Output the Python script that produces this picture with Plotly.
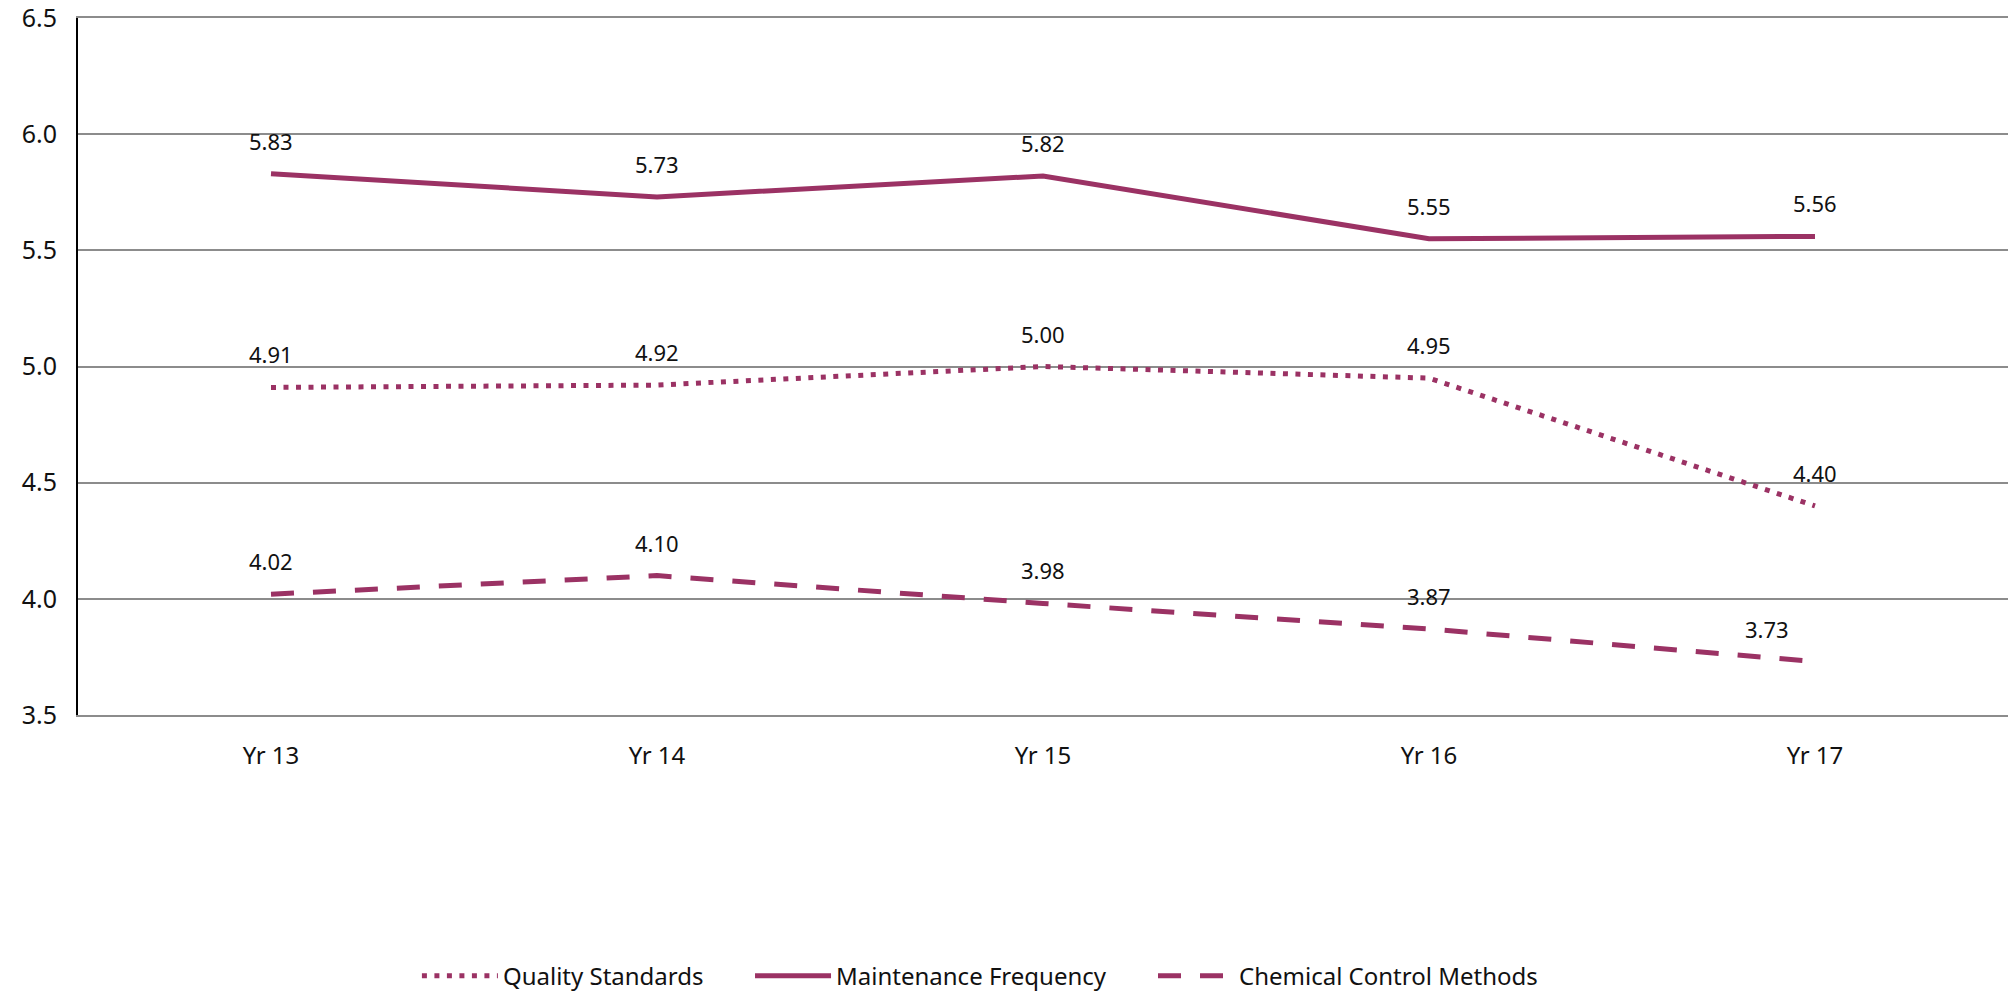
import plotly.graph_objects as go

years = ["Yr 13", "Yr 14", "Yr 15", "Yr 16", "Yr 17"]
quality = [4.91, 4.92, 5.00, 4.95, 4.40]
maintenance = [5.83, 5.73, 5.82, 5.55, 5.56]
chemical = [4.02, 4.10, 3.98, 3.87, 3.73]

color = "#9B3264"
font_family = "Noto Sans, Open Sans, sans-serif"

series = [
    ("Quality Standards", quality, "5px,7.5px", "legend", 0.1756),
    ("Maintenance Frequency", maintenance, "solid", "legend2", 0.3482),
    ("Chemical Control Methods", chemical, "23px,19px", "legend3", 0.557),
]

fig = go.Figure()
for name, vals, dash, leg, lx in series:
    fig.add_trace(go.Scatter(
        x=years, y=vals, name=name, mode="lines",
        line=dict(color=color, width=5, dash=dash),
        hoverinfo="skip", legend=leg,
    ))

# data labels
for name, vals, dash, leg, lx in series:
    for i, (cat, v) in enumerate(zip(years, vals)):
        xshift = 0
        if name == "Chemical Control Methods" and i == len(years) - 1:
            xshift = -48
        fig.add_annotation(
            x=cat, y=v, text=f"{v:.2f}", showarrow=False,
            yshift=33, xshift=xshift,
            font=dict(family=font_family, size=22, color="#111111"),
        )

legend_common = dict(
    orientation="h", xanchor="left", y=-0.3746, yanchor="middle",
    font=dict(family=font_family, size=24, color="#111111"),
    itemwidth=76, bgcolor="rgba(0,0,0,0)",
)
layout_legends = {}
for name, vals, dash, leg, lx in series:
    layout_legends[leg] = dict(legend_common, x=lx)

fig.update_layout(
    width=2008, height=999,
    margin=dict(l=78, r=0, t=18, b=279),
    plot_bgcolor="white", paper_bgcolor="white",
    showlegend=True,
    font=dict(family=font_family, size=23, color="#111111"),
    **layout_legends,
)
fig.update_xaxes(
    type="category", range=[-0.5, 4.5],
    showgrid=False, showline=True, mirror=True,
    linecolor="#8c8c8c", linewidth=1.5,
    ticks="", zeroline=False, automargin=False,
    tickfont=dict(family=font_family, size=24, color="#111111"),
    ticklabelstandoff=18,
)
fig.update_yaxes(
    range=[3.5, 6.5], dtick=0.5, tickformat=".1f",
    showgrid=True, gridcolor="#8c8c8c", gridwidth=1.5,
    showline=True, linecolor="#000000", linewidth=2,
    zeroline=False, ticks="", automargin=False,
    tickfont=dict(family=font_family, size=25, color="#111111"),
    ticklabelstandoff=14, ticklabeloverflow="allow",
)

fig.write_html(
    "out.html",
    config={"displayModeBar": False},
    post_script="document.body.style.margin='0';document.body.style.overflow='hidden';",
)
